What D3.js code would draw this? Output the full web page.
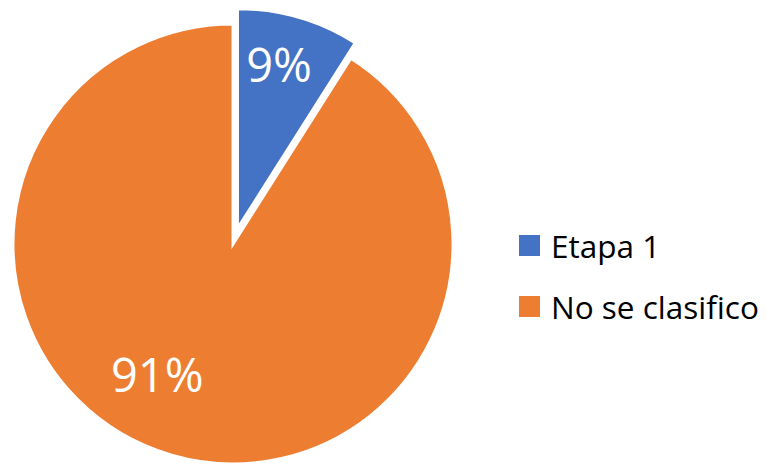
<!DOCTYPE html>
<html>
<head>
<meta charset="utf-8">
<style>
body { margin:0; background:#fff; }
svg { display:block; }
</style>
</head>
<body>
<script src="https://d3js.org/d3.v7.min.js"></script>
<svg width="766" height="464"></svg>
<script>
const categories = ["Etapa 1", "No se clasifico"];
const values = [9, 91];
const labels = ["9%", "91%"];
const colors = ["#4472C4", "#ED7D31"];
const explode = [16, 0];

const svg = d3.select("svg");
const cx = 233, cy = 244, r = 220;

const pie = d3.pie().sort(null).value(d => d)(values);
const arc = d3.arc().innerRadius(0).outerRadius(r);

const g = svg.append("g").attr("transform", `translate(${cx},${cy})`);

const slices = g.selectAll("g.slice")
    .data(pie)
    .enter()
    .append("g")
    .attr("class", "slice")
    .attr("transform", (d, i) => {
        const a = (d.startAngle + d.endAngle) / 2;
        return `translate(${Math.sin(a) * explode[i]},${-Math.cos(a) * explode[i]})`;
    });

slices.append("path")
    .attr("d", arc)
    .style("fill", (d, i) => colors[i])
    .style("stroke", "#fff")
    .style("stroke-width", "3px")
    .style("stroke-linejoin", "miter");

// label placement (Excel best fit): fraction of radius, angle shift in degrees
const labelR = [0.77, 0.685];
const labelShift = [-2, 14];
slices.append("text")
    .attr("x", (d, i) => Math.sin((d.startAngle + d.endAngle) / 2 + labelShift[i] * Math.PI / 180) * r * labelR[i])
    .attr("y", (d, i) => -Math.cos((d.startAngle + d.endAngle) / 2 + labelShift[i] * Math.PI / 180) * r * labelR[i])
    .attr("text-anchor", "middle")
    .attr("dominant-baseline", "central")
    .style("font-family", "'Open Sans', sans-serif")
    .style("font-size", "47px")
    .style("fill", "#fff")
    .text((d, i) => labels[i]);

const legend = svg.append("g").attr("transform", "translate(519,235)");
const items = legend.selectAll("g")
    .data(categories)
    .enter()
    .append("g")
    .attr("transform", (d, i) => `translate(0,${i * 61})`);
items.append("rect")
    .attr("width", 21)
    .attr("height", 21)
    .style("fill", (d, i) => colors[i]);
items.append("text")
    .attr("x", 32)
    .attr("y", 10.5)
    .attr("dominant-baseline", "central")
    .style("font-family", "'Open Sans', sans-serif")
    .style("font-size", "31.5px")
    .style("fill", "#000")
    .text(d => d);
</script>
</body>
</html>
